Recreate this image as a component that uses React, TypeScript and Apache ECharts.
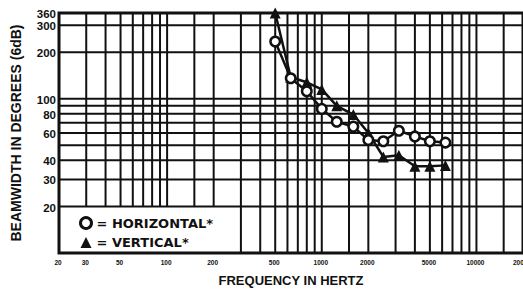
import React, { useEffect, useRef } from "react";
import * as echarts from "echarts";

// ---- data ----
const FREQ = [500, 630, 800, 1000, 1250, 1600, 2000, 2500, 3150, 4000, 5000, 6300];
const HORIZONTAL = [235, 136, 112, 86, 71, 66, 54, 53, 62, 57, 53, 52];
const VERTICAL = [360, 138, 128, 115, 90, 79, 60, 42, 43, 36.5, 36.5, 37];

const X_TICK_LABELS = [20, 30, 50, 100, 200, 500, 1000, 2000, 5000, 10000, 20000];
const Y_TICK_LABELS = [20, 30, 40, 60, 80, 100, 200, 300, 360];

const X_GRID = [30, 40, 50, 60, 70, 80, 90, 100, 150, 200, 300, 400, 500, 600, 700, 800, 900, 1000, 1500, 2000, 3000, 4000, 5000, 6000, 7000, 8000, 9000, 10000, 15000];
const Y_GRID = [20, 30, 40, 50, 60, 70, 80, 90, 100, 200, 300];

const X_MIN = 20;
const X_MAX = 20000;
const Y_MIN = 10;
const Y_MAX = 360;
// legend box: free of grid lines below this value / left of this frequency
const LEGEND_BOX_TOP = 20;
const LEGEND_BOX_RIGHT = 300;

const INK = "#111";
const FONT = "Liberation Sans";
const WIDE_FONT = "DejaVu Sans";

export default function App() {
  const ref = useRef<HTMLDivElement>(null);
  useEffect(() => {
    if (!ref.current) return;
    const chart = echarts.init(ref.current, undefined, { renderer: "svg" });
    const lineEl = (p1: number[], p2: number[]) => ({
      type: "line",
      shape: { x1: p1[0], y1: p1[1], x2: p2[0], y2: p2[1] },
      style: { stroke: INK, lineWidth: 2 },
    });
    const textEl = (x: number, y: number, text: string, size: number, align: string) => ({
      type: "text",
      x,
      y,
      style: {
        text,
        fill: INK,
        fontSize: size,
        fontWeight: "bold",
        fontFamily: FONT,
        align,
        verticalAlign: "middle",
        textAlign: align,
        textVerticalAlign: "middle",
      },
    });
    chart.setOption({
      animation: false,
      backgroundColor: "#fff",
      grid: {
        left: 59,
        top: 13,
        width: 465,
        height: 243,
        show: true,
        borderColor: INK,
        borderWidth: 3,
      },
      xAxis: {
        type: "log",
        logBase: 10,
        min: X_MIN,
        max: X_MAX,
        axisLine: { show: false },
        axisTick: { show: false },
        axisLabel: { show: false },
        splitLine: { show: false },
        name: "FREQUENCY IN HERTZ",
        nameLocation: "middle",
        nameGap: 21,
        nameTextStyle: { color: INK, fontSize: 13, fontWeight: "bold", fontFamily: FONT },
      },
      yAxis: {
        type: "log",
        logBase: 10,
        min: Y_MIN,
        max: Y_MAX,
        axisLine: { show: false },
        axisTick: { show: false },
        axisLabel: { show: false },
        splitLine: { show: false },
        name: "BEAMWIDTH IN DEGREES (6dB)",
        nameLocation: "middle",
        nameGap: 36,
        nameTextStyle: { color: INK, fontSize: 14, fontWeight: "bold", fontFamily: FONT },
      },
      legend: {
        orient: "vertical",
        left: 79,
        top: 216,
        padding: 0,
        itemWidth: 11,
        itemHeight: 11,
        itemGap: 6,
        data: [
          {
            name: "HORIZONTAL",
            icon: "circle",
            itemStyle: { color: "#fff", borderColor: INK, borderWidth: 3 },
          },
          {
            name: "VERTICAL",
            icon: "triangle",
            itemStyle: { color: INK, borderColor: INK, borderWidth: 0 },
          },
        ],
        formatter: (name: string) => "= " + name + "*",
        textStyle: { color: INK, fontSize: 13, fontWeight: "bold", fontFamily: WIDE_FONT, lineHeight: 13 },
      },
      series: [
        {
          type: "custom",
          name: "vgrid",
          silent: true,
          z: 1,
          clip: false,
          encode: { x: 0, y: 1 },
          data: X_GRID.map((f) => [f, f < LEGEND_BOX_RIGHT ? LEGEND_BOX_TOP : Y_MIN]),
          renderItem: (_p: any, api: any) =>
            lineEl(api.coord([api.value(0), api.value(1)]), api.coord([api.value(0), Y_MAX])),
        },
        {
          type: "custom",
          name: "hgrid",
          silent: true,
          z: 1,
          clip: false,
          encode: { x: 0, y: 1 },
          data: Y_GRID.map((v) => [X_MIN, v]),
          renderItem: (_p: any, api: any) =>
            lineEl(api.coord([X_MIN, api.value(1)]), api.coord([X_MAX, api.value(1)])),
        },
        {
          type: "custom",
          name: "xlabels",
          silent: true,
          z: 1,
          clip: false,
          encode: { x: 0, y: 1 },
          data: X_TICK_LABELS.map((f) => [f, Y_MIN]),
          renderItem: (_p: any, api: any) => {
            const p = api.coord([api.value(0), Y_MIN]);
            return textEl(p[0] - 1, p[1] + 9, String(api.value(0)), 6.5, "center");
          },
        },
        {
          type: "custom",
          name: "ylabels",
          silent: true,
          z: 1,
          clip: false,
          encode: { x: 0, y: 1 },
          data: Y_TICK_LABELS.map((v) => [X_MIN, v]),
          renderItem: (_p: any, api: any) => {
            const p = api.coord([X_MIN, api.value(1)]);
            return textEl(p[0] - 3, p[1] + 1, String(api.value(1)), 11.5, "right");
          },
        },
        {
          type: "line",
          name: "VERTICAL",
          z: 3,
          clip: false,
          data: FREQ.map((f, i) => [f, VERTICAL[i]]),
          symbol: "triangle",
          symbolSize: 11,
          lineStyle: { color: INK, width: 2.5 },
          itemStyle: { color: INK, borderColor: INK, borderWidth: 0 },
        },
        {
          type: "line",
          name: "HORIZONTAL",
          z: 4,
          clip: false,
          data: FREQ.map((f, i) => [f, HORIZONTAL[i]]),
          symbol: "circle",
          symbolSize: 9.5,
          lineStyle: { color: INK, width: 2.5 },
          itemStyle: { color: "#fff", borderColor: INK, borderWidth: 2.5 },
        },
      ],
    });
    return () => chart.dispose();
  }, []);
  return (
    <div
      ref={ref}
      style={{ position: "fixed", left: 0, top: 0, width: 523, height: 292, background: "#fff" }}
    />
  );
}
